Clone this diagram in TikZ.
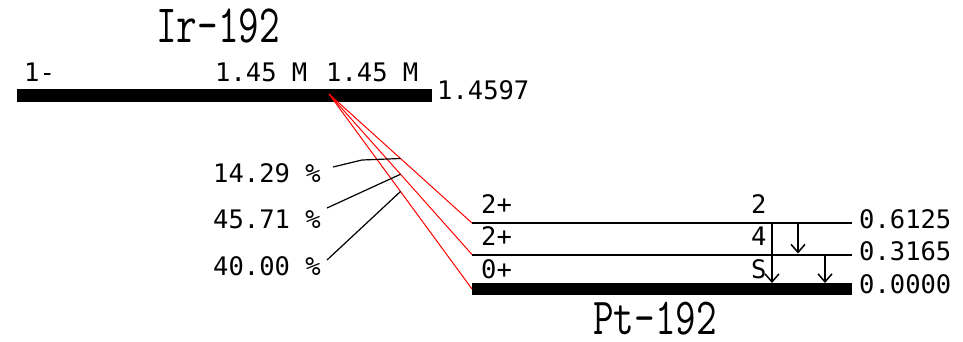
\documentclass[tikz,border=0pt]{standalone}
\usepackage{fontspec}
\usepackage{graphicx}
\usetikzlibrary{arrows.meta,calc}
\newfontfamily\lblfont{DejaVu Sans Mono}
\tikzset{
  lbl/.style={font=\lblfont\fontsize{25.5}{26}\selectfont, inner sep=0pt, anchor=base west},
  ttl/.style={font=\ttfamily\fontsize{40}{42}\selectfont, inner sep=0pt, anchor=base west},
  bar/.style={line width=12.5pt},
  lev/.style={line width=2pt},
  feed/.style={red, line width=1pt},
  pct/.style={black, line width=1.2pt},
  gam/.style={line width=1.5pt, -{Straight Barb[length=8pt,width=14pt,line width=1.5pt]}}
}
\begin{document}
\begin{tikzpicture}[x=1pt,y=-1pt]
\useasboundingbox[fill=white] (0,0) rectangle (963,342);
% parent
\node[ttl] (ir) at (156,43) {\scalebox{1}[1.35]{Ir-192}};
\coordinate (pL) at (17,95.5);
\coordinate (pR) at (432,95.5);
\draw[bar] (pL) -- (pR);
\node[lbl] (pspin) at (24,82) {1-};
\node[lbl] (hl1) at (215,82) {1.45 M};
\node[lbl] (hl2) at (326,82) {1.45 M};
\node[lbl] (pe) at (437,100) {1.4597};
% daughter levels
\coordinate (l2L) at (472,223); \coordinate (l2R) at (852,223);
\coordinate (l1L) at (472,254.5); \coordinate (l1R) at (852,254.5);
\coordinate (l0L) at (472,289); \coordinate (l0R) at (852,289);
\draw[lev] (l2L) -- (l2R);
\draw[lev] (l1L) -- (l1R);
\draw[bar] (l0L) -- (l0R);
\node[lbl] (s2) at (481,213) {2+};
\node[lbl] (s1) at (481,245) {2+};
\node[lbl] (s0) at (481,278) {0+};
\node[lbl] (m2) at (751,213) {2};
\node[lbl] (m1) at (751,245) {4};
\node[lbl] (m0) at (751,278) {S};
\node[lbl] (e2) at (859,228) {0.6125};
\node[lbl] (e1) at (859,260) {0.3165};
\node[lbl] (e0) at (859,293) {0.0000};
\node[ttl] (pt) at (593,334.5) {\scalebox{1}[1.3]{Pt-192}};
% beta feeding
\coordinate (src) at (329,94);
\draw[feed] (src) -- (l2L);
\draw[feed] (src) -- (l1L);
\draw[feed] (src) -- (l0L);
\coordinate (b2) at ($(src)!0.5!(l2L)$);
\coordinate (b1) at ($(src)!0.5!(l1L)$);
\coordinate (b0) at ($(src)!0.5!(l0L)$);
\node[lbl] (p2) at (213,182) {14.29 \%};
\node[lbl] (p1) at (213,228) {45.71 \%};
\node[lbl] (p0) at (213,275) {40.00 \%};
\coordinate (k2) at (362,160);
\draw[pct] (333,167) -- (k2) -- (b2);
\draw[pct] (327,208) -- (b1);
\draw[pct] (327,260) -- (b0);
% gammas
\coordinate (g1t) at (772,223); \coordinate (g1b) at (772,283);
\coordinate (g2t) at (798,223); \coordinate (g2b) at (798,253.5);
\coordinate (g3t) at (825,254.5); \coordinate (g3b) at (825,283);
\draw[gam] (g1t) -- (g1b);
\draw[gam] (g2t) -- (g2b);
\draw[gam] (g3t) -- (g3b);
\end{tikzpicture}
\end{document}
